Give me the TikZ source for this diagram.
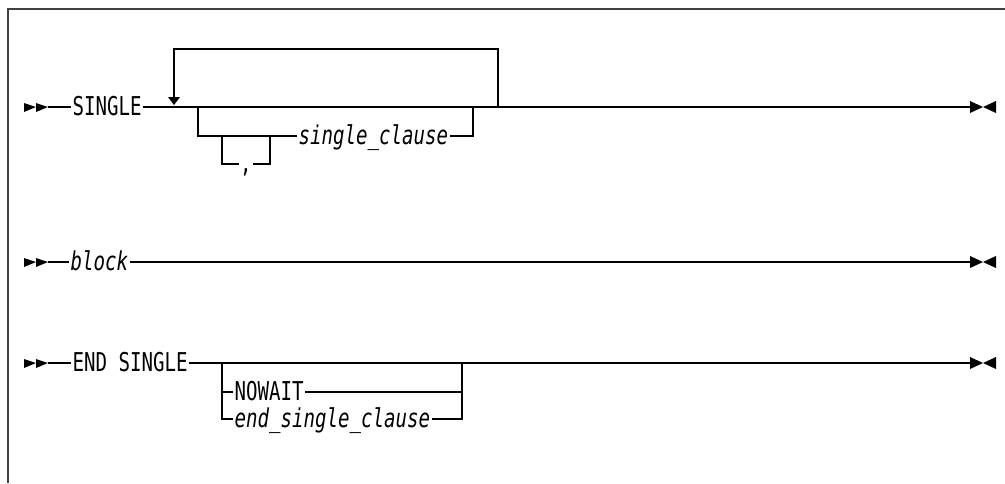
\documentclass[tikz,border=0pt]{standalone}
\usepackage{fontspec}
\usepackage{graphicx}
\setmonofont{DejaVu Sans Mono}
\newcommand\tx[1]{\scalebox{0.98}[1.33]{#1}}
\begin{document}
\begin{tikzpicture}[x=1pt,y=-1pt,
  line width=1.3pt,
  kw/.style={inner xsep=1pt, inner ysep=0pt, text height=16pt, text depth=0pt,
    font=\fontsize{19.5}{20}\selectfont\ttfamily, anchor=west},
  var/.style={kw, font=\fontsize{19.5}{20}\selectfont\ttfamily\itshape},
  frame/.style={line width=1.2pt, draw=black!75}]
\useasboundingbox (0,0) rectangle (1005,483);
% frame
\draw[frame] (8,483) -- (8,9) -- (1005,9);

% ---------- row 1 ----------
\coordinate (s1e) at (48,107);
\fill (24,103) -- (36,107) -- (24,112) -- cycle;
\fill (36,103) -- (48,107) -- (36,112) -- cycle;
\node[kw] (single) at (71,107) {\tx{SINGLE}};
\coordinate (j1) at (174,107);
\coordinate (j2) at (498,107);
\coordinate (b1) at (198,107);
\coordinate (b2) at (473,107);
\coordinate (e1) at (970,107);
\node[var] (clause) at (297,136) {\tx{single\_clause}};
\node[kw, anchor=center] (comma) at (246,164) {\tx{,}};
\draw (s1e) -- (single.west);
\draw (single.east) -- (e1);
% repeat loop
\draw (j2) -- (498,49) -- (174,49) -- (174,97);
\fill (168,97) -- (180,97) -- (174,105) -- cycle;
% optional bracket
\draw (b1) -- (198,136) -- (clause.west);
\draw (clause.east) -- (473,136) -- (b2);
% separator
\draw (222,136) -- (222,164) -- (comma.west);
\draw (comma.east) -- (270,164) -- (270,136);
% end symbol
\fill (970,101) -- (983,107) -- (970,113) -- cycle;
\fill (996,101) -- (983,107) -- (996,113) -- cycle;

% ---------- row 2 ----------
\coordinate (s2e) at (48,262);
\coordinate (e2) at (970,262);
\fill (24,258) -- (36,262) -- (24,267) -- cycle;
\fill (36,258) -- (48,262) -- (36,267) -- cycle;
\node[var] (block) at (69,262) {\tx{block}};
\draw (s2e) -- (block.west);
\draw (block.east) -- (e2);
\fill (970,256) -- (983,262) -- (970,268) -- cycle;
\fill (996,256) -- (983,262) -- (996,268) -- cycle;

% ---------- row 3 ----------
\coordinate (s3e) at (48,363);
\coordinate (e3) at (970,363);
\fill (24,359) -- (36,363) -- (24,368) -- cycle;
\fill (36,359) -- (48,363) -- (36,368) -- cycle;
\node[kw] (endsingle) at (71,363) {\tx{END SINGLE}};
\node[kw] (nowait) at (233,392) {\tx{NOWAIT}};
\node[var] (esc) at (233,419) {\tx{end\_single\_clause}};
\coordinate (c1) at (222,363);
\coordinate (c2) at (462,363);
\draw (s3e) -- (endsingle.west);
\draw (endsingle.east) -- (e3);
\draw (c1) -- (222,419) -- (esc.west);
\draw (222,392) -- (nowait.west);
\draw (nowait.east) -- (462,392);
\draw (esc.east) -- (462,419) -- (c2);
\fill (970,357) -- (983,363) -- (970,369) -- cycle;
\fill (996,357) -- (983,363) -- (996,369) -- cycle;
\end{tikzpicture}
\end{document}
